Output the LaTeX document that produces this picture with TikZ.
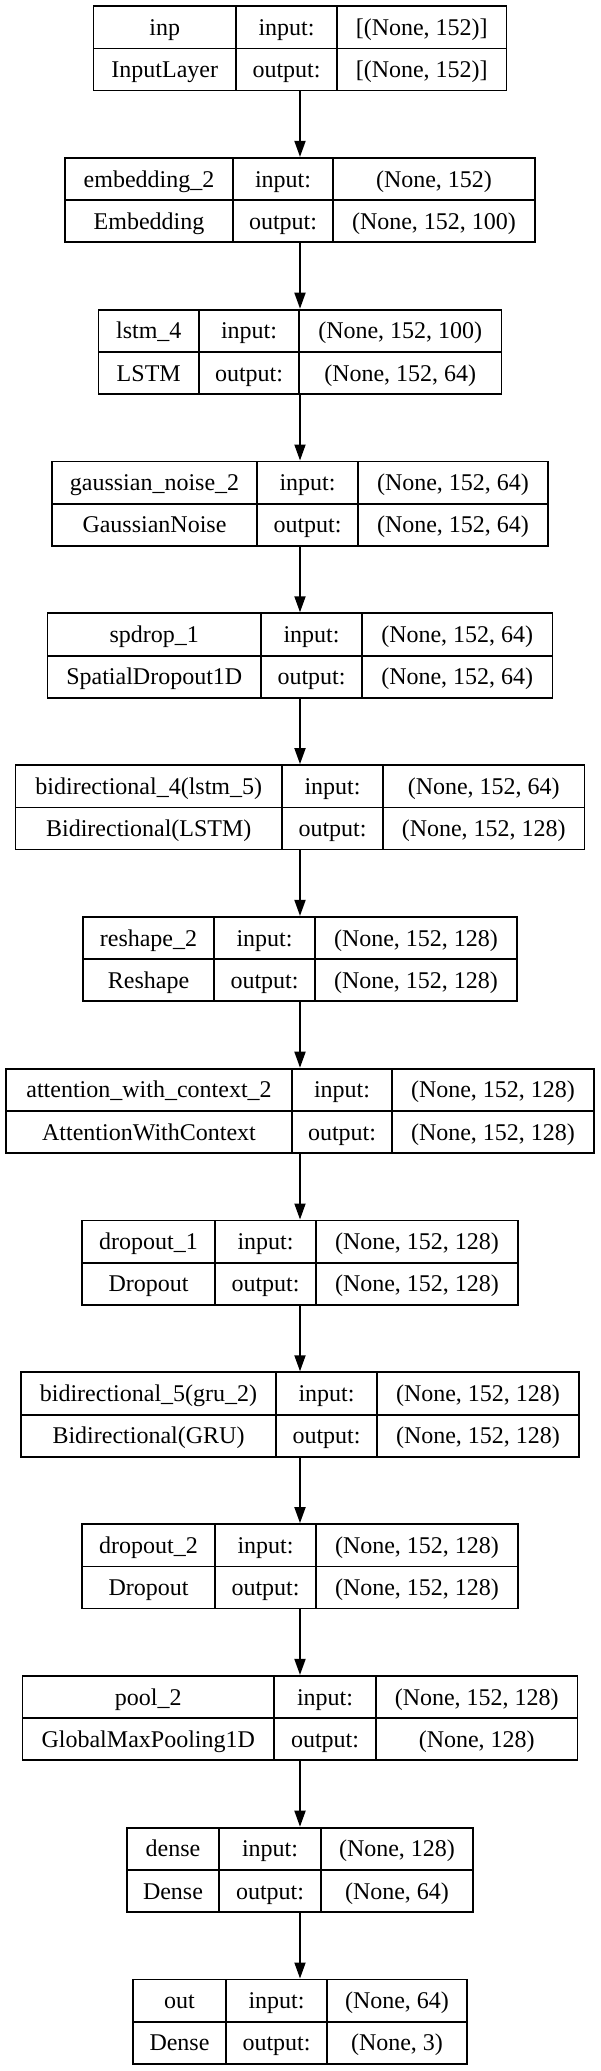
\documentclass[tikz,border=0pt]{standalone}
\usepackage{fontspec}
\setmainfont{Liberation Serif}
\usetikzlibrary{arrows.meta}
\tikzset{
  boxnode/.style={draw=black, line width=1.8pt, fill=white, inner sep=0pt, rectangle},
  boxline/.style={draw=black, line width=1.8pt},
  txt/.style={anchor=base, inner sep=0pt, font=\fontsize{24}{28}\selectfont},
  arr/.style={draw=black, line width=1.8pt, -{Triangle[length=16pt,width=11pt]}}
}
% #1 name, #2 index, #3 half width, #4 first divider x, #5 second divider x,
% #6 layer name, #7 class, #8 input shape, #9 output shape
\newcommand{\layerbox}[9]{%
  \pgfmathsetmacro\LT{-(6+151.8*#2)}%
  \pgfmathsetmacro\LB{\LT-84.5}%
  \pgfmathsetmacro\LM{\LT-42.5}%
  \pgfmathsetmacro\LL{300-#3}%
  \pgfmathsetmacro\LR{300+#3}%
  \node[boxnode, minimum width=2*#3 pt, minimum height=84.5pt] (#1) at (300,{\LT-42.25}) {};
  \draw[boxline] (\LL,\LM) -- (\LR,\LM);
  \draw[boxline] (#4,\LT) -- (#4,\LB);
  \draw[boxline] (#5,\LT) -- (#5,\LB);
  \node[txt] (#1n) at ({(\LL+#4)/2},{\LT-21.25-8}) {#6};
  \node[txt] (#1c) at ({(\LL+#4)/2},{\LM-21-8}) {#7};
  \node[txt] (#1ia) at ({(#4+#5)/2},{\LT-21.25-8}) {input:};
  \node[txt] (#1oa) at ({(#4+#5)/2},{\LM-21-8}) {output:};
  \node[txt] (#1iv) at ({(#5+\LR)/2},{\LT-21.25-8}) {#8};
  \node[txt] (#1ov) at ({(#5+\LR)/2},{\LM-21-8}) {#9};
}
\begin{document}
\begin{tikzpicture}[x=1pt,y=1pt]
\useasboundingbox[fill=white] (0,0) rectangle (600,-2071);
\layerbox{L0}{0}{206.5}{236}{337}{inp}{InputLayer}{[(None, 152)]}{[(None, 152)]}
\layerbox{L1}{1}{235}{233}{333}{embedding\_2}{Embedding}{(None, 152)}{(None, 152, 100)}
\layerbox{L2}{2}{201.5}{199}{299}{lstm\_4}{LSTM}{(None, 152, 100)}{(None, 152, 64)}
\layerbox{L3}{3}{248}{257}{358}{gaussian\_noise\_2}{GaussianNoise}{(None, 152, 64)}{(None, 152, 64)}
\layerbox{L4}{4}{252.5}{261}{362}{spdrop\_1}{SpatialDropout1D}{(None, 152, 64)}{(None, 152, 64)}
\layerbox{L5}{5}{284.5}{282}{383}{bidirectional\_4(lstm\_5)}{Bidirectional(LSTM)}{(None, 152, 64)}{(None, 152, 128)}
\layerbox{L6}{6}{217}{214}{315}{reshape\_2}{Reshape}{(None, 152, 128)}{(None, 152, 128)}
\layerbox{L7}{7}{294}{292}{392}{attention\_with\_context\_2}{AttentionWithContext}{(None, 152, 128)}{(None, 152, 128)}
\layerbox{L8}{8}{218}{215}{316}{dropout\_1}{Dropout}{(None, 152, 128)}{(None, 152, 128)}
\layerbox{L9}{9}{279}{276}{377}{bidirectional\_5(gru\_2)}{Bidirectional(GRU)}{(None, 152, 128)}{(None, 152, 128)}
\layerbox{L10}{10}{218}{215}{316}{dropout\_2}{Dropout}{(None, 152, 128)}{(None, 152, 128)}
\layerbox{L11}{11}{277.5}{274}{376}{pool\_2}{GlobalMaxPooling1D}{(None, 152, 128)}{(None, 128)}
\layerbox{L12}{12}{173}{219}{321}{dense}{Dense}{(None, 128)}{(None, 64)}
\layerbox{L13}{13}{167}{226}{327}{out}{Dense}{(None, 64)}{(None, 3)}
\foreach \a/\b in {L0/L1,L1/L2,L2/L3,L3/L4,L4/L5,L5/L6,L6/L7,L7/L8,L8/L9,L9/L10,L10/L11,L11/L12,L12/L13}
  \draw[arr] (\a.south) -- (\b.north);
\end{tikzpicture}
\end{document}
